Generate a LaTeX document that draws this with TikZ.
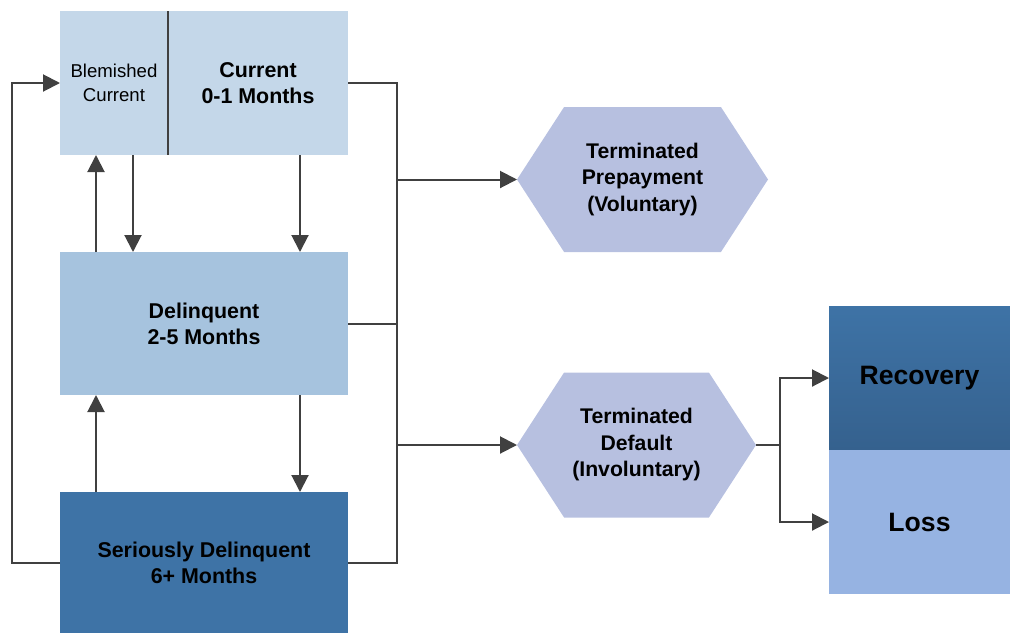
\documentclass[tikz,border=0pt]{standalone}
\usepackage{fontspec}
\setmainfont{Liberation Sans}
\usepackage{xcolor}
\usepackage{tikz}
\usetikzlibrary{arrows.meta,positioning,calc,shapes.symbols}
\definecolor{ink}{HTML}{404040}
\definecolor{curblue}{HTML}{C4D7E9}
\definecolor{delblue}{HTML}{A6C3DE}
\definecolor{serblue}{HTML}{3E73A6}
\definecolor{hexblue}{HTML}{B7C0E0}
\definecolor{rectop}{HTML}{3E73A6}
\definecolor{recbot}{HTML}{35618E}
\definecolor{lossblue}{HTML}{96B3E2}

\begin{document}
\begin{tikzpicture}[
    x=0.5pt, y=-0.5pt,
    node distance=0pt,
    state/.style={inner sep=0pt, outer sep=0pt, align=center,
                 font=\fontsize{10.7}{13}\selectfont\bfseries,
                 minimum height=72pt},
    ending/.style={shape=signal, signal to=east and west,
                 signal pointer angle=114, fill=hexblue, inner sep=0pt,
                 outer sep=0pt, align=center,
                 font=\fontsize{10.6}{13.25}\selectfont\bfseries,
                 minimum height=72.5pt},
    outcome/.style={inner sep=0pt, outer sep=0pt, minimum width=90.5pt,
                 minimum height=72pt, font=\fontsize{13.3}{15}\selectfont\bfseries},
    flow/.style={-{Triangle[length=8.5pt,width=8.5pt]}, draw=ink,
                 line width=1pt},
    wire/.style={draw=ink, line width=1pt}]
  \useasboundingbox (0,0) rectangle (1010,633);
  % states
  \node[state, fill=curblue, minimum width=54pt,
        font=\fontsize{9.3}{12}\selectfont] (blem) at (114,83) {Blemished\\Current};
  \node[state, fill=curblue, minimum width=90pt, right=of blem] (cur) {Current\\0-1 Months};
  \draw[ink, line width=1pt] (blem.north east) -- (blem.south east);
  \node[state, fill=delblue, minimum width=144pt, minimum height=71.5pt] (del) at (204,323.5) {Delinquent\\2-5 Months};
  \node[state, fill=serblue, minimum width=144pt, minimum height=70.5pt] (ser) at (204,562.5) {Seriously Delinquent\\6+ Months};
  % terminations
  \node[ending, minimum width=125.5pt] (prepay) at (642.5,179.5) {Terminated\\Prepayment\\(Voluntary)};
  \node[ending, minimum width=119.5pt] (default) at (636.5,445) {Terminated\\Default\\(Involuntary)};
  \node[outcome, top color=rectop, bottom color=recbot] (rec) at (919.5,378) {Recovery};
  \node[outcome, fill=lossblue, below=of rec] (loss) {Loss};
  % transitions between states
  \coordinate (blemdown) at ($(blem.south)+(19,0)$);
  \coordinate (blemup) at ($(blem.south)+(-18,0)$);
  \coordinate (curdown) at ($(cur.south)+(42,0)$);
  \coordinate (deldown) at ($(del.south)+(96,0)$);
  \coordinate (delup) at ($(del.south)+(-108,0)$);
  \draw[flow] (blemdown) -- (blemdown |- del.north);
  \draw[flow] (blemup |- del.north) -- (blemup);
  \draw[flow] (curdown) -- (curdown |- del.north);
  \draw[flow] (deldown) -- (deldown |- ser.north);
  \draw[flow] (delup |- ser.north) -- (delup);
  \draw[flow] (ser.west) -- ++(-48,0) |- (blem.west);
  % bus to terminations
  \coordinate (bustop) at ($(cur.east)+(49,0)$);
  \draw[wire] (cur.east) -- (bustop) |- (ser.east);
  \draw[wire] (del.east) -- (del.east -| bustop);
  \draw[flow] (prepay.west -| bustop) -- (prepay.west);
  \draw[flow] (default.west -| bustop) -- (default.west);
  % split to outcomes
  \coordinate (split) at ($(default.east)+(24,0)$);
  \draw[wire] (default.east) -- (split);
  \draw[flow] (split) |- (rec.west);
  \draw[flow] (split) |- (loss.west);
\end{tikzpicture}
\end{document}
